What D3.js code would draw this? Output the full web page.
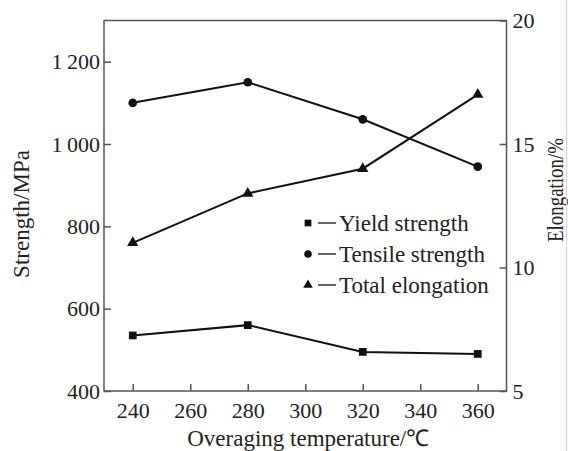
<!DOCTYPE html>
<html>
<head>
<meta charset="utf-8">
<script src="https://cdn.jsdelivr.net/npm/d3@7"></script>
<style>
  body { margin: 0; background: #fff; }
  text { font-family: "Liberation Serif", "Times New Roman", serif; fill: #222; }
</style>
</head>
<body>
<svg width="568" height="451"></svg>
<script>
var temps = [240, 280, 320, 360];
var yieldStrength = [535, 560, 495, 490];
var tensileStrength = [1100, 1150, 1060, 945];
var elongation = [11, 13, 14, 17];

var xTicks = [240, 260, 280, 300, 320, 340, 360];
var leftTicks = [400, 600, 800, 1000, 1200];
var rightTicks = [5, 10, 15, 20];
var legendLabels = ['Yield strength', 'Tensile strength', 'Total elongation'];

var svg = d3.select('svg'),
  width = +svg.attr('width'),
  height = +svg.attr('height');

// plot box (window.top is reserved, so use other names)
var plotL = 104, plotR = 506.5, plotT = 20.5, plotB = 391;

var x = d3.scaleLinear().domain([230, 370]).range([plotL, plotR]);
var yL = d3.scaleLinear().domain([400, 1300]).range([plotB, plotT]);
var yR = d3.scaleLinear().domain([5, 20]).range([plotB, plotT]);

function fmt(d) {
  // thin space thousands separator as in the figure
  return d >= 1000 ? Math.floor(d / 1000) + '\u2009' + String(d % 1000).padStart(3, '0') : String(d);
}

// frame
svg.append('rect')
  .attr('x', plotL).attr('y', plotT)
  .attr('width', plotR - plotL).attr('height', plotB - plotT)
  .attr('fill', 'none').attr('stroke', '#555').attr('stroke-width', 1.5);

var gx = svg.append('g')
  .attr('transform', 'translate(0,' + plotB + ')')
  .call(d3.axisBottom(x).tickValues(xTicks).tickSizeInner(-7).tickSizeOuter(0).tickPadding(11));

var gl = svg.append('g')
  .attr('transform', 'translate(' + plotL + ',0)')
  .call(d3.axisLeft(yL).tickValues(leftTicks).tickFormat(fmt).tickSizeInner(-7).tickSizeOuter(0).tickPadding(5));

var gr = svg.append('g')
  .attr('transform', 'translate(' + plotR + ',0)')
  .call(d3.axisRight(yR).tickValues(rightTicks).tickSizeInner(-7).tickSizeOuter(0).tickPadding(6));

[gx, gl, gr].forEach(function(g) {
  g.select('.domain').remove();
  g.selectAll('line').attr('stroke', '#555').attr('stroke-width', 1.5);
  g.selectAll('text')
    .style('font-family', '"Liberation Serif", serif')
    .style('font-size', '22px')
    .attr('fill', '#222');
});
gl.selectAll('text').attr('x', -4);
gr.selectAll('text').attr('x', 6);

// axis titles
svg.append('text')
  .attr('x', (plotL + plotR) / 2 + 3).attr('y', 446)
  .attr('text-anchor', 'middle')
  .style('font-size', '23px')
  .text('Overaging temperature/\u2103');

svg.append('text')
  .attr('transform', 'translate(29,214) rotate(-90)')
  .attr('text-anchor', 'middle')
  .style('font-size', '23px')
  .text('Strength/MPa');

svg.append('text')
  .attr('transform', 'translate(563,190) rotate(-90)')
  .attr('text-anchor', 'middle')
  .attr('textLength', 104).attr('lengthAdjust', 'spacingAndGlyphs')
  .style('font-size', '23px')
  .text('Elongation/%');

// series
var series = [
  { vals: yieldStrength, y: yL, shape: d3.symbolSquare, size: 60 },
  { vals: tensileStrength, y: yL, shape: d3.symbolCircle, size: 60 },
  { vals: elongation, y: yR, shape: d3.symbolTriangle, size: 55 }
];

series.forEach(function(s) {
  var pts = temps.map(function(t, i) { return [t, s.vals[i]]; });
  svg.append('path')
    .datum(pts)
    .attr('fill', 'none').attr('stroke', '#111').attr('stroke-width', 2)
    .attr('d', d3.line().x(function(d) { return x(d[0]); }).y(function(d) { return s.y(d[1]); }));
  svg.selectAll(null)
    .data(pts)
    .enter().append('path')
    .attr('transform', function(d) { return 'translate(' + x(d[0]) + ',' + s.y(d[1]) + ')'; })
    .attr('d', d3.symbol().type(s.shape).size(s.size))
    .attr('fill', '#111');
});

// legend
var leg = svg.append('g').attr('transform', 'translate(308,223)');
legendLabels.forEach(function(label, i) {
  var row = leg.append('g').attr('transform', 'translate(0,' + (i * 31) + ')');
  row.append('path')
    .attr('d', d3.symbol().type(series[i].shape).size(i == 2 ? 40 : 45))
    .attr('fill', '#111');
  row.append('line')
    .attr('x1', 10).attr('x2', 28).attr('y1', 0).attr('y2', 0)
    .attr('stroke', '#333').attr('stroke-width', 1.5);
  row.append('text')
    .attr('x', 31).attr('y', 8)
    .style('font-size', '23px')
    .text(label);
});

// faint page edge at right
svg.append('line')
  .attr('x1', 566.5).attr('x2', 566.5).attr('y1', 0).attr('y2', height)
  .attr('stroke', '#f6c8c8').attr('stroke-width', 1);
</script>
</body>
</html>
